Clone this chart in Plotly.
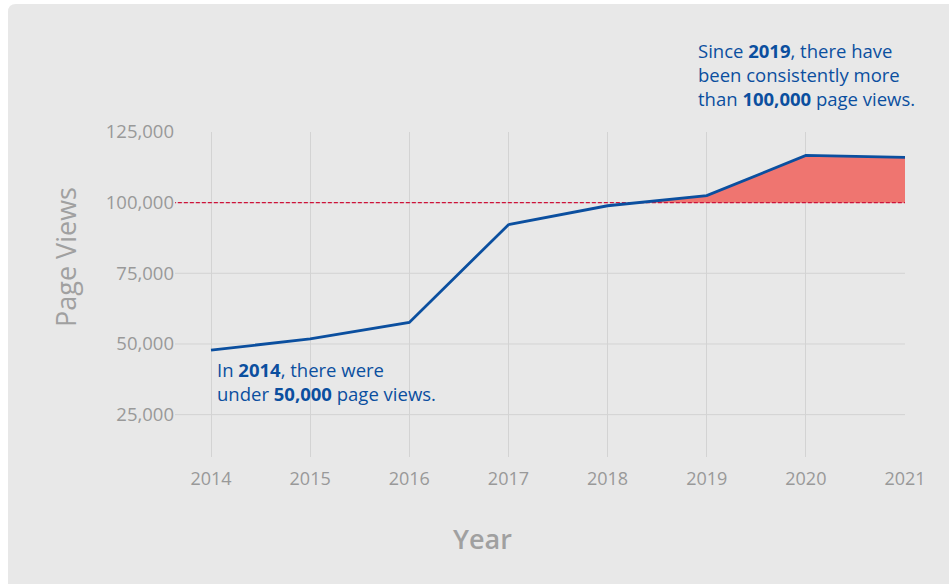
import numpy as np
import plotly.graph_objects as go

# Annual page views
years = [2014, 2015, 2016, 2017, 2018, 2019, 2020, 2021]
page_views = [47800, 51800, 57600, 92200, 98900, 102500, 116700, 116000]

threshold = 100000
y_ticks = [25000, 50000, 75000, 100000, 125000]
grid_values = [25000, 50000, 75000]

note_2014 = ["In <b>2014</b>, there were", "under <b>50,000</b> page views."]
note_2019 = ["Since <b>2019</b>, there have", "been consistently more",
             "than <b>100,000</b> page views."]

BLUE = "#0b4f9f"
RED_FILL = "#ef7570"
RED_LINE = "#cf1239"
GRID = "#d3d3d3"
CARD = "#e8e8e8"
GRAY_TEXT = "#999999"
TITLE_GRAY = "#a0a0a0"
FONT = "Open Sans"

W, H = 949, 584
L, R, T, B = 175, 44, 132, 127
pw, ph = W - L - R, H - T - B

# Segment of the series lying above the threshold, starting at the crossing
x_arr = np.array(years, dtype=float)
y_arr = np.array(page_views, dtype=float)
above_x, above_y = [], []
for i in range(len(x_arr) - 1):
    x0, x1, y0, y1 = x_arr[i], x_arr[i + 1], y_arr[i], y_arr[i + 1]
    if y0 < threshold <= y1:
        xc = x0 + (threshold - y0) / (y1 - y0) * (x1 - x0)
        above_x.append(xc)
        above_y.append(threshold)
    if y1 >= threshold:
        above_x.append(x1)
        above_y.append(y1)

fig = go.Figure()

# baseline for the shaded area
fig.add_trace(go.Scatter(
    x=above_x, y=[threshold] * len(above_x), mode="lines",
    line=dict(width=0, color=RED_FILL), hoverinfo="skip", showlegend=False,
))
fig.add_trace(go.Scatter(
    x=above_x, y=above_y, mode="lines", fill="tonexty",
    fillcolor=RED_FILL, line=dict(width=0, color=RED_FILL),
    hoverinfo="skip", showlegend=False,
))
# threshold dashed line
fig.add_trace(go.Scatter(
    x=[2013.0, years[-1]], y=[threshold, threshold], mode="lines",
    line=dict(color=RED_LINE, width=1.2, dash="4px,2px"),
    hoverinfo="skip", showlegend=False,
))
# main series
fig.add_trace(go.Scatter(
    x=years, y=page_views, mode="lines",
    line=dict(color=BLUE, width=2.8),
    showlegend=False,
))


def px_to_paper_x(px):
    return (px - L) / pw


def px_to_paper_y(py):
    return (H - B - py) / ph


shapes = []
# card background with rounded top-left corner
cx0, cy0, rad = 8, 4, 8
path = (
    f"M {px_to_paper_x(cx0)},{px_to_paper_y(H + 2)} "
    f"L {px_to_paper_x(cx0)},{px_to_paper_y(cy0 + rad)} "
    f"Q {px_to_paper_x(cx0)},{px_to_paper_y(cy0)} {px_to_paper_x(cx0 + rad)},{px_to_paper_y(cy0)} "
    f"L {px_to_paper_x(W + 2)},{px_to_paper_y(cy0)} "
    f"L {px_to_paper_x(W + 2)},{px_to_paper_y(H + 2)} Z"
)
shapes.append(dict(type="path", xref="paper", yref="paper", path=path,
                   fillcolor=CARD, line=dict(width=0), layer="below"))
for v in grid_values + [threshold]:
    shapes.append(dict(type="line", xref="paper", yref="y", x0=0, x1=1, y0=v, y1=v,
                       line=dict(color=GRID, width=1), layer="below"))

NOTE_SIZE = 18.5
annotations = [
    dict(text="<br>".join(note_2014), xref="paper", yref="paper",
         x=px_to_paper_x(215), y=px_to_paper_y(381),
         xanchor="left", yanchor="middle", align="left", showarrow=False,
         font=dict(family=FONT, size=NOTE_SIZE, color=BLUE)),
    dict(text="<br>".join(note_2019), xref="paper", yref="paper",
         x=px_to_paper_x(696), y=px_to_paper_y(74),
         xanchor="left", yanchor="middle", align="left", showarrow=False,
         font=dict(family=FONT, size=NOTE_SIZE, color=BLUE)),
    # axis titles
    dict(text="Page Views", xref="paper", yref="paper",
         x=px_to_paper_x(65), y=px_to_paper_y(257),
         xanchor="center", yanchor="middle", textangle=-90, showarrow=False,
         font=dict(family=FONT, size=27, color=TITLE_GRAY)),
    dict(text="Year", xref="paper", yref="paper",
         x=px_to_paper_x(482), y=px_to_paper_y(538),
         xanchor="center", yanchor="middle", showarrow=False,
         font=dict(family=FONT, size=27, color=TITLE_GRAY, weight=600)),
]

x_lo = years[0] - (211 - L) / ((W - R - 211) / (years[-1] - years[0]))

fig.update_layout(
    width=W, height=H,
    margin=dict(l=L, r=R, t=T, b=B, pad=0),
    paper_bgcolor="white",
    plot_bgcolor=CARD,
    font=dict(family=FONT, color=GRAY_TEXT),
    shapes=shapes,
    annotations=annotations,
    xaxis=dict(
        range=[x_lo, years[-1]],
        tickvals=years, ticktext=[str(y) for y in years],
        showgrid=True, gridcolor=GRID, gridwidth=1,
        zeroline=False, showline=False,
        ticks="outside", ticklen=5, tickcolor="rgba(0,0,0,0)",
        tickfont=dict(family=FONT, size=18, color=GRAY_TEXT),
        automargin=False,
    ),
    yaxis=dict(
        range=[10000, 125000],
        tickvals=y_ticks, tickformat=",",
        showgrid=False, zeroline=False, showline=False,
        ticks="",
        tickfont=dict(family=FONT, size=18.5, color=GRAY_TEXT),
        automargin=False,
    ),
)

fig.write_html("out.html")
